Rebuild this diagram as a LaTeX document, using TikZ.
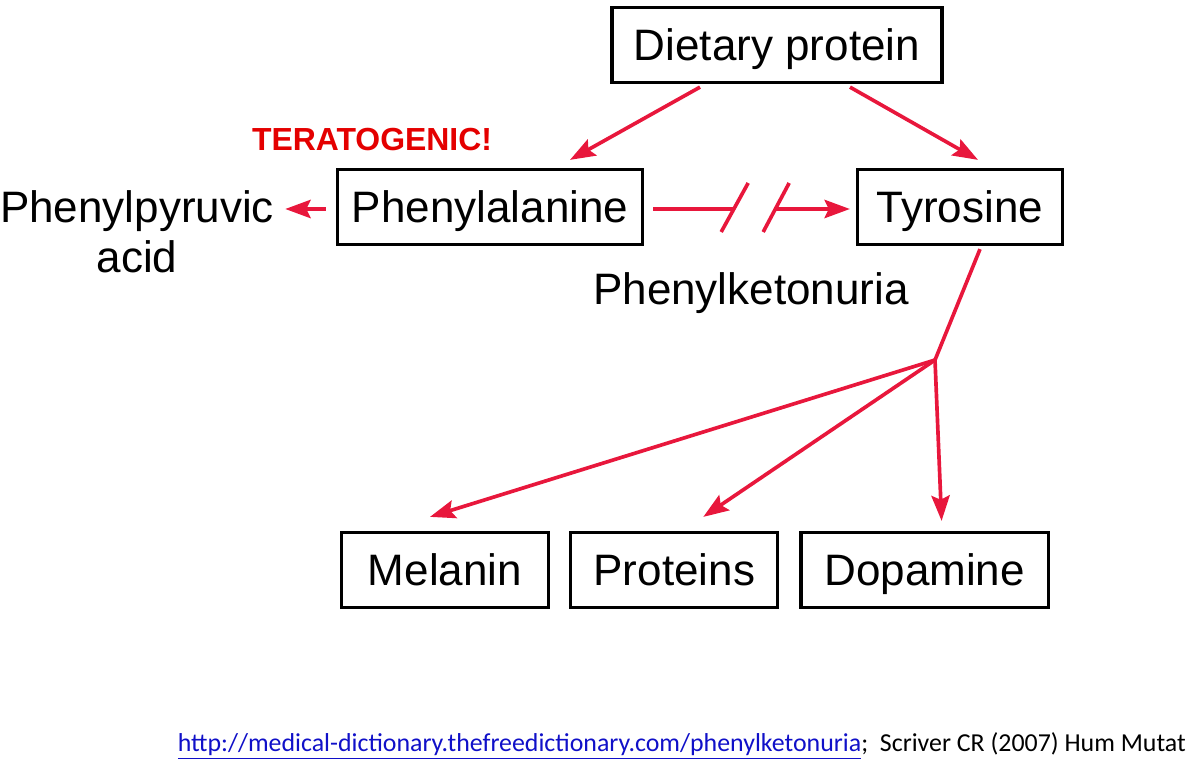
\documentclass[tikz,border=0pt]{standalone}
\usepackage{fontspec}
\usepackage{xcolor}
\usepackage{tikz}
\usetikzlibrary{arrows.meta,positioning,calc}
\newfontfamily\pathfont{Liberation Sans}
\newfontfamily\reffont{Carlito}
\definecolor{pkured}{RGB}{232,23,60}
\definecolor{teratored}{RGB}{228,0,0}
\definecolor{linkblue}{RGB}{16,16,200}
\tikzset{
    pkubox/.style={
        draw, line width=2.3pt, inner sep=0pt, minimum height=1.875cm,
        text height=22.4pt, text depth=0pt,
        font=\pathfont\fontsize{31.3}{36}\selectfont},
    pkutext/.style={
        inner sep=0pt, align=center,
        font=\pathfont\fontsize{31.3}{35.6}\selectfont},
    pkuflow/.style={-{Stealth[length=18pt,width=13pt,inset=3pt]}, draw=pkured, line width=2.6pt},
    pkuline/.style={draw=pkured, line width=2.6pt},
}

\begin{document}
\begin{tikzpicture}[x=0.025cm, y=-0.025cm]
    \useasboundingbox (0,0) rectangle (1200,774);

    % --- Boxes --------------------------------------------------------------
    \node[pkubox, minimum width=8.25cm] (diet) at (777,45) {Dietary protein};
    \node[pkubox, minimum width=7.625cm] (phe) at (490,207) {Phenylalanine};
    \node[pkubox, minimum width=5.125cm] (tyr) at (960,207) {Tyrosine};

    \node[pkubox, minimum width=5.175cm] (mel) at (445,570) {Melanin};
    \node[pkubox, minimum width=5.175cm, right=0.475cm of mel] (prot) {Proteins};
    \node[pkubox, minimum width=6.175cm, right=0.5cm of prot] (dopa) {Dopamine};

    % --- Free labels --------------------------------------------------------
    \node[pkutext] (ppa) at (137,232) {Phenylpyruvic\\acid};
    \node[pkutext] (pku) at (751,293) {Phenylketonuria};
    \node[inner sep=0pt, text=teratored,
          font=\pathfont\bfseries\fontsize{22.7}{26}\selectfont] (terato) at (372,140) {TERATOGENIC!};

    % --- Flow arrows --------------------------------------------------------
    \draw[pkuflow] ($(diet.south)+(-77,3)$) -- ($(phe.north)+(80,-8)$);
    \draw[pkuflow] ($(diet.south)+(73,3)$) -- ($(tyr.north)+(18,-8)$);
    \draw[pkuflow] ($(phe.west)+(-10,2)$) -- ($(ppa.east)+(11,-23)$);

    % blocked step (two slashes)
    \draw[pkuline] ($(phe.east)+(9,2)$) -- ($(phe.east)+(89,2)$);
    \draw[pkuline] ($(phe.east)+(104,-24)$) -- ($(phe.east)+(77,25)$);
    \draw[pkuline] ($(phe.east)+(145,-24)$) -- ($(phe.east)+(119,25)$);
    \draw[pkuflow] ($(phe.east)+(131,2)$) -- ($(tyr.west)+(-6,2)$);

    % --- Tyrosine products --------------------------------------------------
    \coordinate (fork) at (935,360);
    \draw[pkuline] ($(tyr.south)+(20,3)$) -- (fork);
    \draw[pkuflow] (fork) -- ($(mel.north)+(-15,-14)$);
    \draw[pkuflow] (fork) -- ($(prot.north)+(29,-14)$);
    \draw[pkuflow] (fork) -- ($(dopa.north)+(17,-10)$);

    % --- Reference ----------------------------------------------------------
    \node[anchor=east, inner sep=0pt, font=\reffont\fontsize{18.4}{22}\selectfont] (src) at (1186,746)
        {\textcolor{linkblue}{\underline{http://medical-dictionary.thefreedictionary.com/phenylketonuria}};\ \ Scriver CR (2007) Hum Mutat};

\end{tikzpicture}
\end{document}
